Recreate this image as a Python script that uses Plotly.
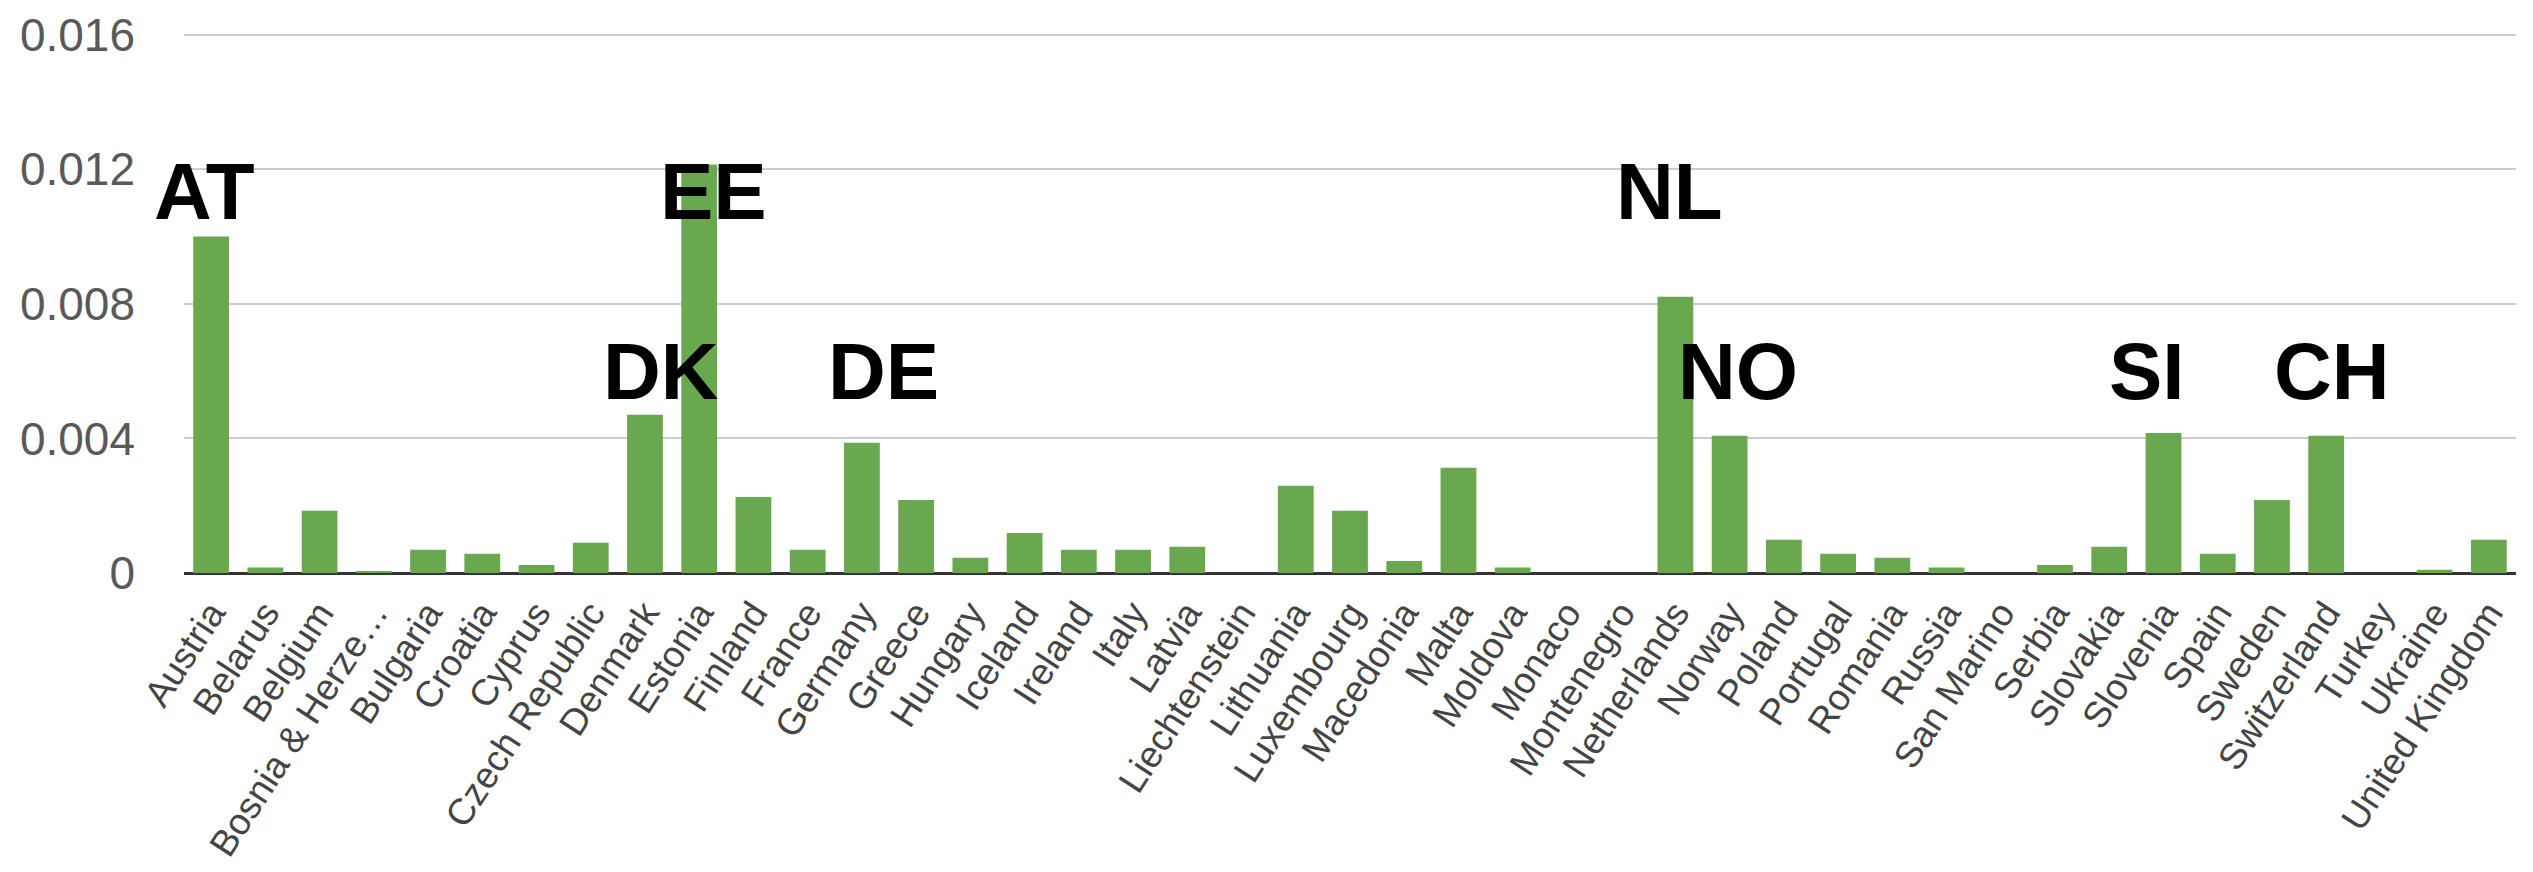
import plotly.graph_objects as go

countries = ["Austria", "Belarus", "Belgium", "Bosnia & Herze…", "Bulgaria", "Croatia",
             "Cyprus", "Czech Republic", "Denmark", "Estonia", "Finland", "France",
             "Germany", "Greece", "Hungary", "Iceland", "Ireland", "Italy", "Latvia",
             "Liechtenstein", "Lithuania", "Luxembourg", "Macedonia", "Malta", "Moldova",
             "Monaco", "Montenegro", "Netherlands", "Norway", "Poland", "Portugal",
             "Romania", "Russia", "San Marino", "Serbia", "Slovakia", "Slovenia", "Spain",
             "Sweden", "Switzerland", "Turkey", "Ukraine", "United Kingdom"]

values = [0.01000, 0.00016, 0.00185, 0.00005, 0.00069, 0.00057,
          0.00024, 0.00090, 0.00470, 0.01214, 0.00226, 0.00069,
          0.00387, 0.00217, 0.00045, 0.00119, 0.00069, 0.00069, 0.00078,
          0.00000, 0.00259, 0.00185, 0.00036, 0.00313, 0.00016,
          0.00000, 0.00000, 0.00821, 0.00408, 0.00099, 0.00057,
          0.00045, 0.00016, 0.00000, 0.00024, 0.00078, 0.00416, 0.00057,
          0.00217, 0.00408, 0.00000, 0.00010, 0.00099]

label_countries = ["Austria", "Estonia", "Netherlands", "Denmark", "Germany", "Norway", "Slovenia", "Switzerland"]
label_codes = ["AT", "EE", "NL", "DK", "DE", "NO", "SI", "CH"]
label_levels = [0.01134, 0.01134, 0.01134, 0.00599, 0.00599, 0.00599, 0.00599, 0.00599]
label_shifts = [-7, 14, -6, 16, 22, 8, -16, 6]

y_ticks = [0, 0.004, 0.008, 0.012, 0.016]
y_tick_text = ["0", "0.004", "0.008", "0.012", "0.016"]

fig = go.Figure()
fig.add_trace(go.Bar(x=countries, y=values, marker_color="#6aa84f", marker_line_width=0))

for c, t, ly, sx in zip(label_countries, label_codes, label_levels, label_shifts):
    fig.add_annotation(x=c, y=ly, text="<b>" + t + "</b>", showarrow=False,
                       xshift=sx, yanchor="middle",
                       font=dict(family="Liberation Sans", size=80, color="#000000"))

fig.update_layout(
    width=2533, height=872,
    margin=dict(l=184, r=17, t=32, b=299, autoexpand=False),
    paper_bgcolor="white", plot_bgcolor="white",
    bargap=0.34, showlegend=False,
    font=dict(family="Liberation Sans"),
)
fig.update_xaxes(
    type="category", range=[-0.5, len(countries) - 0.5],
    tickangle=-57, showgrid=False,
    showline=False, ticks="", automargin=False,
    tickfont=dict(family="Liberation Sans", size=37, color="#444444"),
    ticklabelstandoff=10,
)
fig.update_yaxes(
    range=[0, 0.01608], tickvals=y_ticks, ticktext=y_tick_text,
    showgrid=True, gridcolor="#cccccc", gridwidth=2,
    zeroline=True, zerolinecolor="#333333", zerolinewidth=3,
    showline=False, ticks="", automargin=False,
    tickfont=dict(family="Liberation Sans", size=46, color="#595959"),
    ticklabelstandoff=48,
)

fig.write_html("out.html")
